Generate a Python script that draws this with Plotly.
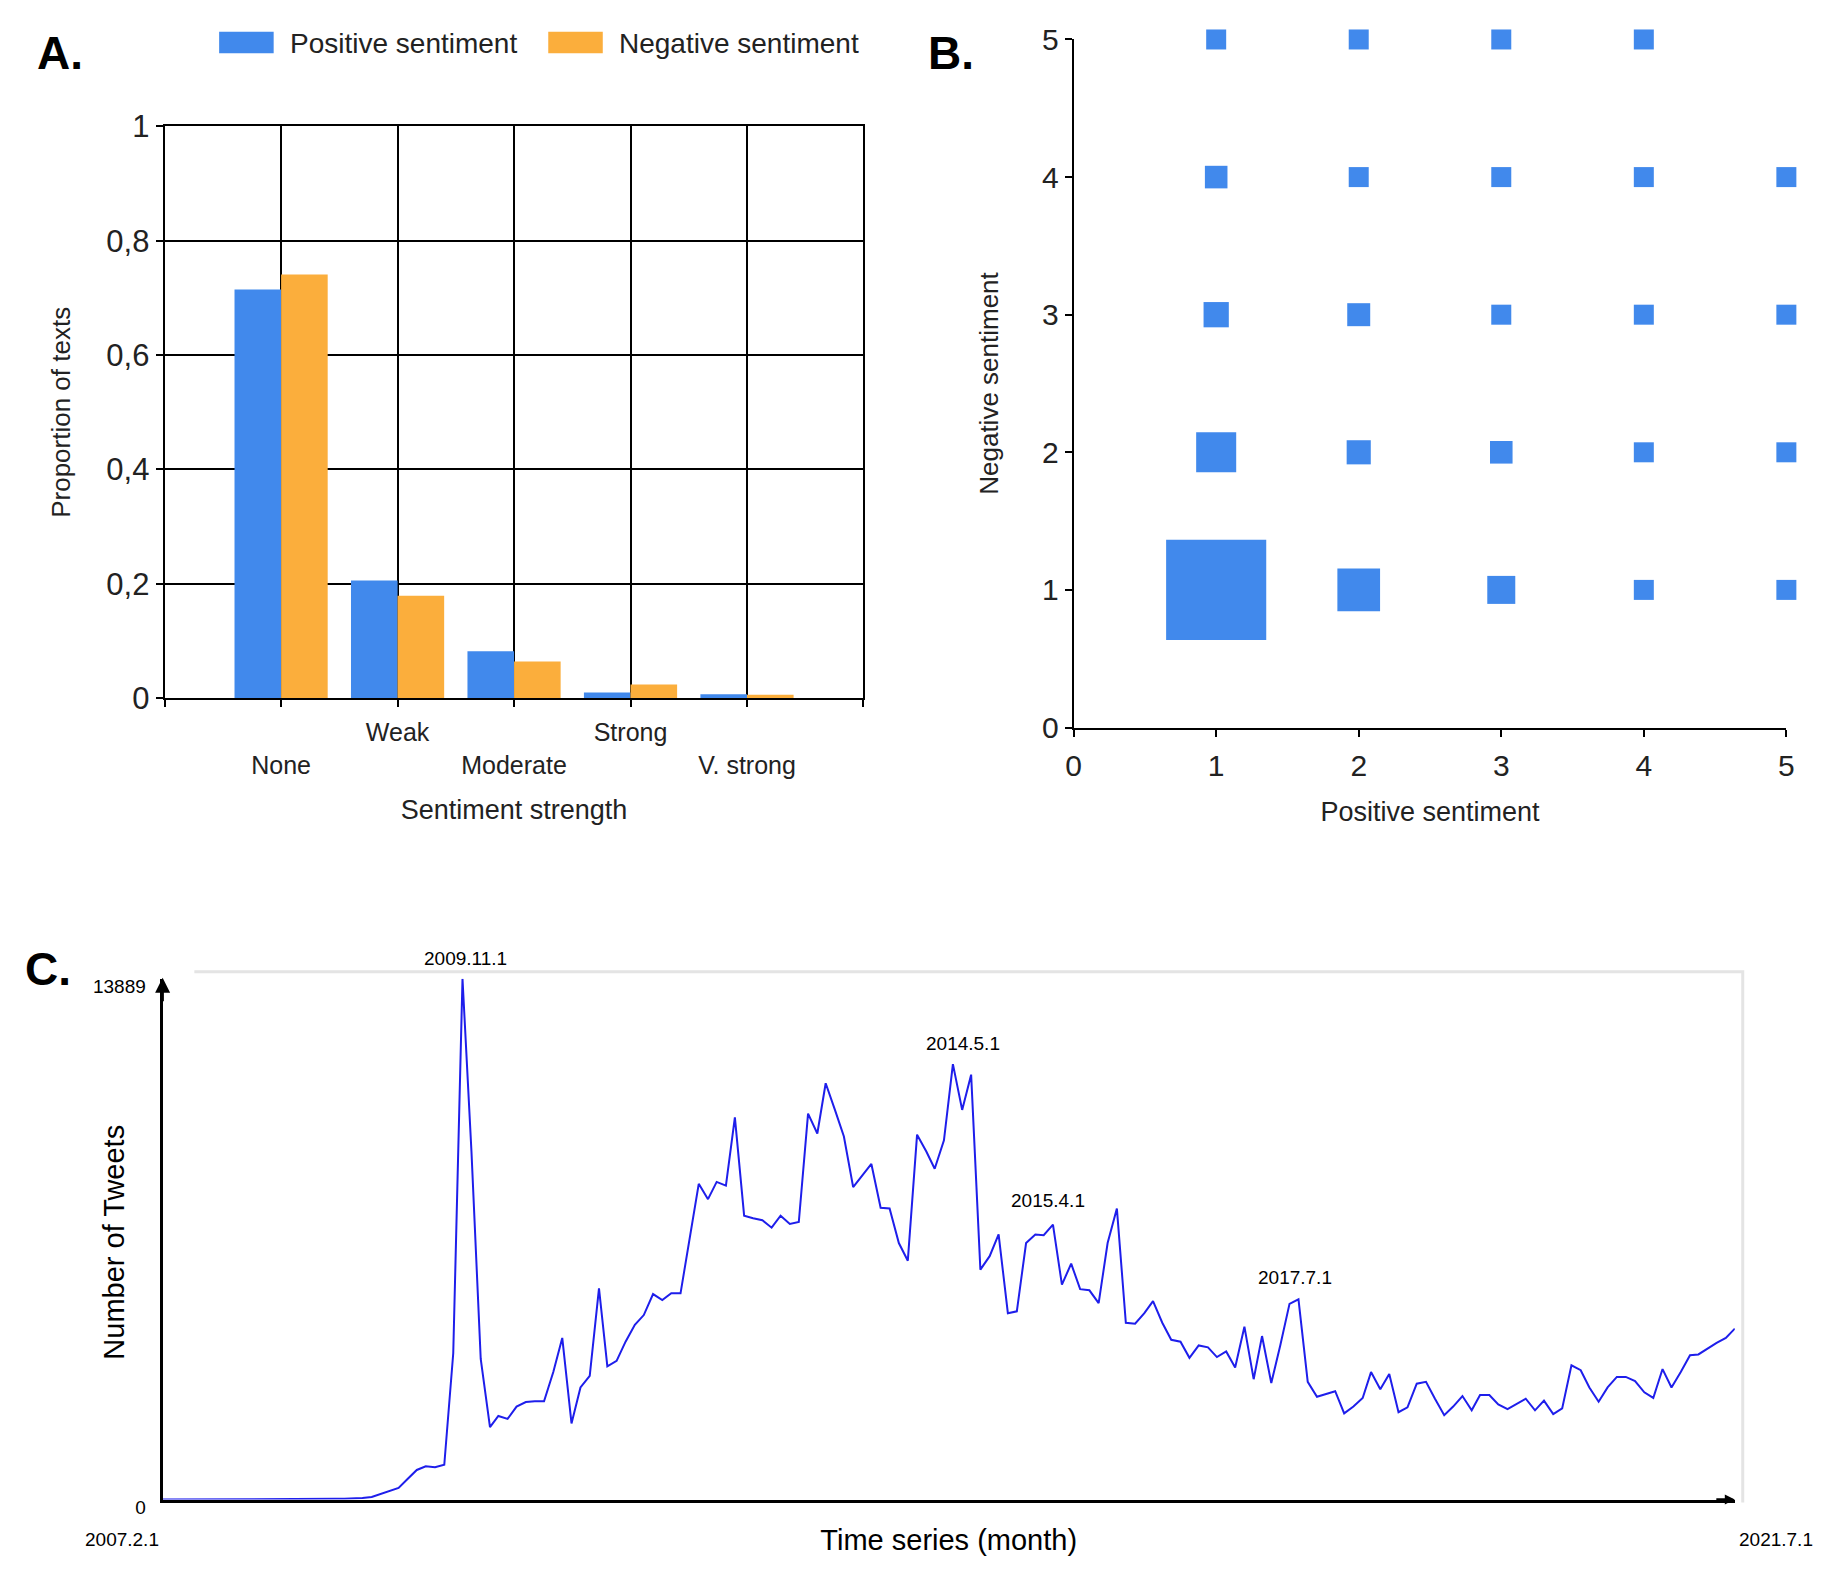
import math
import pandas as pd
import plotly.graph_objects as go

# ---------------- Data ----------------
# Panel A: proportion of texts by sentiment strength
strength_labels = ["None", "Weak", "Moderate", "Strong", "V. strong"]
positive_props = [0.715, 0.206, 0.082, 0.010, 0.007]
negative_props = [0.741, 0.179, 0.064, 0.024, 0.006]
prop_ticks = [0, 0.2, 0.4, 0.6, 0.8, 1]
prop_tick_text = ["0", "0,2", "0,4", "0,6", "0,8", "1"]

# Panel B: joint distribution (rows: negative 1..5, cols: positive 1..5)
pos_levels = [1, 2, 3, 4, 5]
neg_levels = [1, 2, 3, 4, 5]
joint_props = [
    [0.550, 0.100, 0.043, 0.012, 0.006],
    [0.088, 0.032, 0.028, 0.008, 0.005],
    [0.035, 0.029, 0.022, 0.006, 0.004],
    [0.028, 0.016, 0.012, 0.005, 0.003],
    [0.015, 0.007, 0.005, 0.003, None],
]

# Panel C: monthly number of tweets, 2007.2 .. 2021.7
start_month = "2007-02-01"
end_month = "2021-07-01"
tweets = [
    0, 0, 0, 0, 0, 0, 0, 0, 0, 0, 0, 0, 0, 0, 0, 0,
    10, 10, 15, 20, 25, 30,
    40, 70, 150, 210, 310, 550, 790, 890, 860, 930,
    3900, 13889, 9280, 3750, 1930, 2230, 2150, 2480, 2600, 2620,
    2620, 3400, 4310, 2030, 2990, 3300, 5630, 3550, 3700, 4210,
    4660, 4920, 5480, 5320, 5500, 5500, 6950, 8420, 8010, 8470,
    8370, 10190, 7570, 7500, 7450, 7250, 7570, 7350, 7400, 10290,
    9760, 11100, 10390, 9680, 8330, 8620, 8950, 7780, 7760, 6840,
    6370, 9730, 9280, 8820, 9580, 11610, 10390, 11330, 6130, 6490,
    7070, 4970, 5020, 6840, 7070, 7050, 7330, 5730, 6290, 5610,
    5580, 5240, 6840, 7760,
    4715, 4690, 4970, 5290, 4715, 4260, 4210, 3780, 4110, 4060,
    3800, 3950, 3520, 4610, 3210, 4360, 3110, 4110, 5220, 5340,
    3140, 2740, 2810, 2890, 2300, 2480, 2710, 3400, 2940, 3350,
    2330, 2460, 3090, 3140, 2690, 2250, 2480, 2760, 2380, 2790,
    2790, 2540, 2410, 2540,
    2690, 2380, 2640, 2280, 2430, 3580, 3450, 2990, 2610, 2990,
    3270, 3270, 3160, 2860, 2710, 3480, 2990, 3400, 3850, 3870,
    4030, 4180, 4310, 4560,
]
months = pd.date_range(start_month, periods=len(tweets), freq="MS")
peak_dates = ["2009-11-01", "2014-05-01", "2015-04-01", "2017-07-01"]
peak_labels = ["2009.11.1", "2014.5.1", "2015.4.1", "2017.7.1"]
start_label = "2007.2.1"
end_label = "2021.7.1"
y_max_label = 13889

# ---------------- Styling ----------------
W, H = 1836, 1587
FONT = "Liberation Sans, Arial, sans-serif"
BLUE = "#4189EC"
ORANGE = "#FBAE3C"
LINE_BLUE = "rgb(30,30,235)"
TXT = "#222222"


def px(x):
    return x / W


def py(y):
    return 1 - y / H


fig = go.Figure()

# Panel A bars
fig.add_trace(go.Bar(x=list(range(1, 6)), y=positive_props, name="Positive sentiment",
                     marker=dict(color=BLUE, line=dict(width=0)),
                     xaxis="x", yaxis="y", showlegend=False))
fig.add_trace(go.Bar(x=list(range(1, 6)), y=negative_props, name="Negative sentiment",
                     marker=dict(color=ORANGE, line=dict(width=0)),
                     xaxis="x", yaxis="y", showlegend=False))

# Panel B squares
bx, by, bsize = [], [], []
for r, neg in enumerate(neg_levels):
    for c, pos in enumerate(pos_levels):
        v = joint_props[r][c]
        if v is None:
            continue
        bx.append(pos)
        by.append(neg)
        bsize.append(max(20.0, 135.0 * math.sqrt(v)))
fig.add_trace(go.Scatter(x=bx, y=by, mode="markers",
                         marker=dict(symbol="square", size=bsize, color=BLUE,
                                     line=dict(width=0), opacity=1),
                         cliponaxis=False, xaxis="x2", yaxis="y2", showlegend=False))

# Panel C line
fig.add_trace(go.Scatter(x=months, y=tweets, mode="lines",
                         line=dict(color=LINE_BLUE, width=2),
                         xaxis="x3", yaxis="y3", showlegend=False))

title_font = dict(family=FONT, size=27, color=TXT)

fig.update_layout(
    width=W, height=H,
    margin=dict(l=0, r=0, t=0, b=0),
    paper_bgcolor="white", plot_bgcolor="white",
    barmode="group", bargap=0.2, bargroupgap=0,
    font=dict(family=FONT, color=TXT),
    showlegend=False,
    xaxis=dict(domain=[px(158), px(863)], range=[0, 6],
               tickvals=[0, 1, 2, 3, 4, 5, 6],
               ticktext=["", "<br>" + strength_labels[0], strength_labels[1],
                         "<br>" + strength_labels[2], strength_labels[3],
                         "<br>" + strength_labels[4], ""],
               showgrid=True, gridcolor="black", gridwidth=2,
               showline=True, linecolor="black", linewidth=2, mirror=True,
               ticks="outside", ticklen=7, tickcolor="black", tickwidth=2,
               tickfont=dict(family=FONT, size=25, color=TXT),
               ticklabelstandoff=4,
               zeroline=False,
               title=dict(text="Sentiment strength", font=title_font, standoff=22),
               anchor="y", fixedrange=True),
    yaxis=dict(domain=[py(697), py(112)], range=[0, 1],
               tickvals=prop_ticks, ticktext=prop_tick_text,
               showgrid=True, gridcolor="black", gridwidth=2,
               showline=True, linecolor="black", linewidth=2, mirror=True,
               ticks="outside", ticklen=7, tickcolor="black", tickwidth=2,
               tickfont=dict(family=FONT, size=31, color=TXT),
               zeroline=False,
               title=dict(text="Proportion of texts", font=dict(family=FONT, size=26, color=TXT), standoff=28),
               anchor="x"),
    xaxis2=dict(domain=[px(1075), px(1794)], range=[0, 5],
                tickvals=[0, 1, 2, 3, 4, 5],
                showgrid=False, zeroline=False,
                showline=True, linecolor="black", linewidth=2,
                ticks="outside", ticklen=7, tickcolor="black", tickwidth=2,
                tickfont=dict(family=FONT, size=30, color=TXT),
                ticklabelstandoff=3,
                title=dict(text="Positive sentiment", font=title_font, standoff=22),
                anchor="y2"),
    yaxis2=dict(domain=[py(727), py(23)], range=[0, 5],
                tickvals=[0, 1, 2, 3, 4, 5],
                showgrid=False, zeroline=False,
                showline=True, linecolor="black", linewidth=2,
                ticks="outside", ticklen=7, tickcolor="black", tickwidth=2,
                tickfont=dict(family=FONT, size=30, color=TXT),
                title=dict(text="Negative sentiment", font=dict(family=FONT, size=26, color=TXT), standoff=36),
                anchor="x2"),
    xaxis3=dict(domain=[px(156), px(1742)], range=[start_month, end_month],
                type="date", showgrid=False, zeroline=False,
                showline=True, linecolor="black", linewidth=3,
                ticks="", showticklabels=False,
                title=dict(text="Time series (month)", font=dict(family=FONT, size=29, color="black"), standoff=29),
                anchor="y3"),
    yaxis3=dict(domain=[py(1517), py(984)], range=[0, y_max_label],
                tickvals=[0, y_max_label], ticktext=["0", str(y_max_label)],
                showgrid=False, zeroline=False,
                showline=True, linecolor="black", linewidth=3,
                ticks="", tickfont=dict(family=FONT, size=19, color="black"),
                ticklabelstandoff=10, ticklabelshift=8,
                anchor="x3"),
)

shapes = []
# Legend swatches for panel A
shapes.append(dict(type="rect", xref="paper", yref="paper",
                   x0=px(213), x1=px(268), y0=py(37), y1=py(15),
                   fillcolor=BLUE, line=dict(width=0)))
shapes.append(dict(type="rect", xref="paper", yref="paper",
                   x0=px(545), x1=px(600), y0=py(37), y1=py(15),
                   fillcolor=ORANGE, line=dict(width=0)))
# light frame of panel C
shapes.append(dict(type="path", xref="paper", yref="paper",
                   path=f"M {px(188)} {py(977)} L {px(1750)} {py(977)} L {px(1750)} {py(1520)}",
                   line=dict(color="#e4e4e4", width=3)))
fig.update_layout(shapes=shapes)

ann = []
# panel letters
for t, x, y in [("A.", 52, 37), ("B.", 951, 37), ("C.", 40, 974)]:
    ann.append(dict(text=f"<b>{t}</b>", x=px(x), y=py(y), xref="paper", yref="paper",
                    showarrow=False, xanchor="center", yanchor="middle",
                    font=dict(family=FONT, size=46, color="black")))
# legend texts
ann.append(dict(text="Positive sentiment", x=px(282), y=py(27), xref="paper", yref="paper",
                showarrow=False, xanchor="left", yanchor="middle",
                font=dict(family=FONT, size=28, color=TXT)))
ann.append(dict(text="Negative sentiment", x=px(614), y=py(27), xref="paper", yref="paper",
                showarrow=False, xanchor="left", yanchor="middle",
                font=dict(family=FONT, size=28, color=TXT)))
# panel C y title
ann.append(dict(text="Number of Tweets", x=px(106), y=py(1254), xref="paper", yref="paper",
                showarrow=False, textangle=-90, xanchor="center", yanchor="middle",
                font=dict(family=FONT, size=29, color="black")))
# panel C end date labels
ann.append(dict(text=start_label, x=start_month, y=0, xref="x3", yref="y3",
                showarrow=False, xanchor="right", yanchor="middle", yshift=-40, xshift=-2,
                font=dict(family=FONT, size=19, color="black")))
ann.append(dict(text=end_label, x=end_month, y=0, xref="x3", yref="y3",
                showarrow=False, xanchor="left", yanchor="middle", yshift=-40, xshift=2,
                font=dict(family=FONT, size=19, color="black")))
# peak labels
month_index = {d.strftime("%Y-%m-%d"): i for i, d in enumerate(months)}
shifts = [3, 10, -5, -3]
yshifts = [8, 8, 12, 9]
for d, lab, xs, ys in zip(peak_dates, peak_labels, shifts, yshifts):
    val = tweets[month_index[d]]
    ann.append(dict(text=lab, x=d, y=val, xref="x3", yref="y3", showarrow=False,
                    xanchor="center", yanchor="bottom", yshift=ys, xshift=xs,
                    font=dict(family=FONT, size=19, color="black")))
# axis arrow heads in panel C
ann.append(dict(text="", x=px(156), y=py(983), xref="paper", yref="paper",
                showarrow=True, ax=0, ay=25, arrowhead=2, arrowsize=1.2,
                arrowwidth=2.5, arrowcolor="black"))
ann.append(dict(text="", x=px(1742), y=py(1517), xref="paper", yref="paper",
                showarrow=True, ax=-20, ay=0, arrowhead=2, arrowsize=0.8,
                arrowwidth=2.5, arrowcolor="black"))
fig.update_layout(annotations=ann)

fig.write_html("out.html",
               config={"displayModeBar": False, "staticPlot": True},
               post_script="document.body.style.margin='0';document.body.style.overflow='hidden';")
